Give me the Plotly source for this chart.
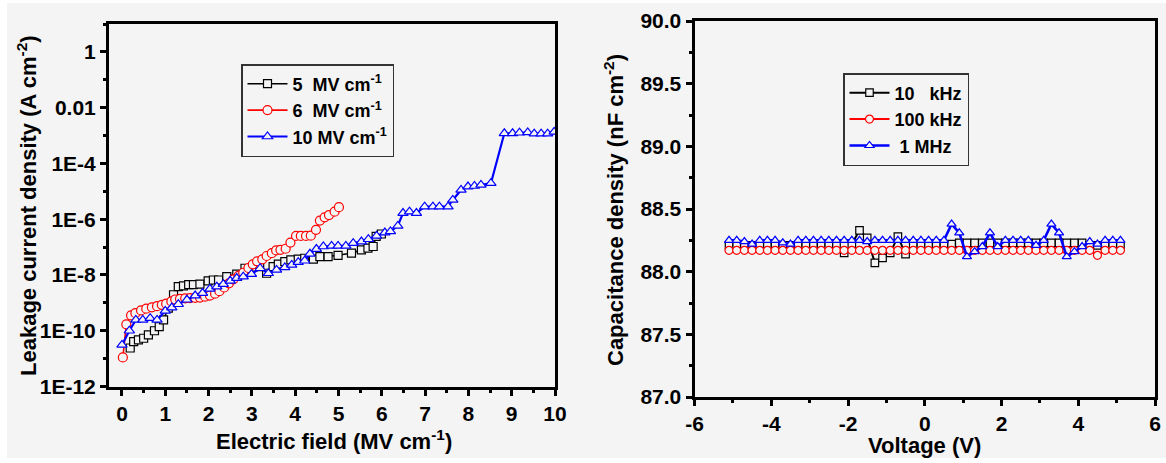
import plotly.graph_objects as go

# ---------------- Leakage current density vs electric field ----------------
field_5 = [0.19, 0.27, 0.38, 0.50, 0.61, 0.75, 0.86, 0.96, 1.07, 1.19, 1.30, 1.42, 1.54, 1.65,
           1.80, 1.99, 2.11, 2.23, 2.42, 2.65, 2.84, 3.02, 3.18, 3.34, 3.49, 3.61, 3.76, 3.90,
           4.07, 4.22, 4.42, 4.57, 4.76, 4.99, 5.30, 5.53, 5.68, 5.80, 5.87, 5.99]
leak_5 = [2.40e-11, 4.07e-11, 4.68e-11, 5.37e-11, 7.08e-11, 1.00e-10, 1.41e-10, 2.45e-10,
          6.46e-10, 1.95e-9, 3.80e-9, 4.07e-9, 4.47e-9, 4.47e-9, 4.68e-9, 6.17e-9, 6.61e-9,
          6.61e-9, 8.71e-9, 1.07e-8, 1.74e-8, 1.91e-8, 2.00e-8, 1.15e-8, 2.00e-8, 2.45e-8,
          3.02e-8, 3.47e-8, 3.72e-8, 3.98e-8, 3.72e-8, 4.57e-8, 4.57e-8, 5.01e-8, 6.03e-8,
          7.94e-8, 9.12e-8, 1.05e-7, 2.40e-7, 2.95e-7]

field_6 = [0.02, 0.10, 0.21, 0.31, 0.44, 0.56, 0.69, 0.81, 0.92, 1.02, 1.14, 1.23, 1.34, 1.46,
           1.57, 1.69, 1.80, 1.92, 2.03, 2.15, 2.25, 2.36, 2.47, 2.57, 2.69, 2.80, 2.92, 3.02,
           3.12, 3.24, 3.34, 3.46, 3.56, 3.66, 3.78, 3.89, 4.02, 4.13, 4.25, 4.36, 4.48, 4.57,
           4.68, 4.78, 4.91, 5.01]
leak_6 = [1.10e-11, 1.70e-10, 3.55e-10, 4.27e-10, 5.37e-10, 6.17e-10, 6.92e-10, 7.59e-10,
          8.51e-10, 9.33e-10, 1.12e-9, 1.32e-9, 1.38e-9, 1.45e-9, 1.48e-9, 1.51e-9, 1.55e-9,
          1.66e-9, 1.82e-9, 2.14e-9, 2.63e-9, 3.55e-9, 5.01e-9, 6.92e-9, 9.33e-9, 1.20e-8,
          1.78e-8, 2.40e-8, 3.09e-8, 3.63e-8, 4.79e-8, 6.03e-8, 7.59e-8, 7.94e-8, 8.71e-8,
          1.45e-7, 2.51e-7, 2.51e-7, 2.51e-7, 2.57e-7, 4.17e-7, 8.91e-7, 1.17e-6, 1.41e-6,
          1.86e-6, 2.69e-6]

field_10 = [0.00, 0.17, 0.32, 0.48, 0.65, 0.81, 1.00, 1.15, 1.30, 1.50, 1.69, 1.86, 2.03, 2.19,
            2.34, 2.50, 2.65, 2.80, 2.99, 3.19, 3.38, 3.57, 3.76, 3.92, 4.07, 4.22, 4.34, 4.49,
            4.65, 4.84, 4.99, 5.17, 5.34, 5.53, 5.69, 5.88, 6.07, 6.20, 6.37, 6.49, 6.64, 6.80,
            6.99, 7.18, 7.33, 7.53, 7.64, 7.83, 7.99, 8.14, 8.29, 8.52, 8.83, 9.02, 9.18, 9.37,
            9.52, 9.68, 9.83, 9.98]
leak_10 = [3.09e-11, 1.00e-10, 2.45e-10, 2.45e-10, 2.82e-10, 2.45e-10, 5.13e-10, 6.76e-10,
           8.91e-10, 1.29e-9, 1.82e-9, 2.24e-9, 3.16e-9, 3.80e-9, 4.68e-9, 6.17e-9, 7.76e-9,
           8.71e-9, 1.07e-8, 1.74e-8, 1.15e-8, 1.51e-8, 1.86e-8, 2.29e-8, 2.88e-8, 3.24e-8,
           5.75e-8, 8.51e-8, 1.05e-7, 1.10e-7, 1.10e-7, 1.10e-7, 1.38e-7, 1.58e-7, 1.91e-7,
           2.51e-7, 3.31e-7, 3.63e-7, 5.75e-7, 1.66e-6, 1.86e-6, 1.66e-6, 2.82e-6, 2.82e-6,
           2.82e-6, 2.82e-6, 4.90e-6, 1.12e-5, 1.48e-5, 1.55e-5, 1.70e-5, 1.95e-5, 1.20e-3,
           1.20e-3, 1.26e-3, 1.29e-3, 1.17e-3, 1.17e-3, 1.17e-3, 1.35e-3]

leak_tickvals = [1e-12, 1e-10, 1e-8, 1e-6, 1e-4, 1e-2, 1]
leak_ticktext = ["1E-12", "1E-10", "1E-8", "1E-6", "1E-4", "0.01", "1"]
leak_minor = [1e-11, 1e-9, 1e-7, 1e-5, 1e-3, 1e-1, 10]

# ---------------- Capacitance density vs voltage ----------------
voltage = [-5.1, -4.9, -4.7, -4.5, -4.3, -4.1, -3.9, -3.7, -3.5, -3.3, -3.1, -2.9, -2.7,
           -2.5, -2.3, -2.1, -1.9, -1.7, -1.5, -1.3, -1.1, -0.9, -0.7, -0.5, -0.3, -0.1,
           0.1, 0.3, 0.5, 0.7, 0.9, 1.1, 1.3, 1.5, 1.7, 1.9, 2.1, 2.3, 2.5, 2.7,
           2.9, 3.1, 3.3, 3.5, 3.7, 3.9, 4.1, 4.3, 4.5, 4.7, 4.9, 5.1]
cap_10k = [88.21, 88.21, 88.21, 88.21, 88.21, 88.21, 88.21, 88.21, 88.21, 88.21, 88.21, 88.21, 88.21,
           88.21, 88.21, 88.15, 88.22, 88.33, 88.27, 88.07, 88.11, 88.15, 88.28, 88.14, 88.21, 88.21,
           88.21, 88.21, 88.21, 88.22, 88.23, 88.23, 88.23, 88.23, 88.23, 88.23, 88.23, 88.23, 88.23, 88.23,
           88.23, 88.23, 88.23, 88.23, 88.23, 88.23, 88.23, 88.21, 88.21, 88.21, 88.21, 88.21]
cap_100k = [88.17, 88.17, 88.17, 88.17, 88.17, 88.17, 88.17, 88.17, 88.17, 88.17, 88.17, 88.17, 88.17,
            88.17, 88.17, 88.17, 88.17, 88.17, 88.17, 88.17, 88.17, 88.17, 88.17, 88.17, 88.17, 88.17,
            88.17, 88.17, 88.17, 88.17, 88.17, 88.17, 88.17, 88.17, 88.17, 88.17, 88.17, 88.17, 88.17, 88.17,
            88.17, 88.17, 88.17, 88.17, 88.17, 88.17, 88.17, 88.17, 88.13, 88.17, 88.17, 88.17]
cap_1m = [88.25, 88.25, 88.24, 88.22, 88.25, 88.25, 88.25, 88.23, 88.22, 88.25, 88.25, 88.25, 88.25,
          88.25, 88.25, 88.25, 88.25, 88.25, 88.24, 88.25, 88.25, 88.25, 88.25, 88.25, 88.25, 88.25,
          88.25, 88.25, 88.25, 88.38, 88.31, 88.12, 88.16, 88.20, 88.31, 88.20, 88.25, 88.25, 88.25, 88.25,
          88.21, 88.25, 88.38, 88.31, 88.12, 88.16, 88.20, 88.24, 88.22, 88.25, 88.25, 88.25]

volt_tickvals = [-6, -4, -2, 0, 2, 4, 6]
volt_ticktext = ["-6", "-4", "-2", "0", "2", "4", "6"]

# ---------------- figure geometry (pixels) ----------------
W, H = 1166, 463
BG = "#f4f4f4"
FONT = "Liberation Sans, Arial, sans-serif"


def xdom(a, b):
    return [a / W, b / W]


def ydom(top, bottom):
    return [1 - bottom / H, 1 - top / H]


def hollow(symbol, size, color):
    # outlined symbol whose inside is painted with the plot background,
    # so the connecting line does not show through it
    return dict(symbol=symbol, size=size, color=BG, line=dict(color=color, width=1.2))


fig = go.Figure()

fig.add_trace(go.Scatter(
    x=field_5, y=leak_5, mode="lines+markers", name="5&nbsp;&nbsp;MV cm<sup>-1</sup>",
    line=dict(color="#000000", width=1.6), marker=hollow("square", 8, "#000000"),
    xaxis="x", yaxis="y", legend="legend"))
fig.add_trace(go.Scatter(
    x=field_6, y=leak_6, mode="lines+markers", name="6&nbsp;&nbsp;MV cm<sup>-1</sup>",
    line=dict(color="#ff0000", width=1.6), marker=hollow("circle", 9, "#ff0000"),
    xaxis="x", yaxis="y", legend="legend"))
fig.add_trace(go.Scatter(
    x=field_10, y=leak_10, mode="lines+markers", name="10 MV cm<sup>-1</sup>",
    line=dict(color="#0000ff", width=2.2), marker=hollow("triangle-up", 9, "#0000ff"),
    xaxis="x", yaxis="y", legend="legend"))

fig.add_trace(go.Scatter(
    x=voltage, y=cap_10k, mode="lines+markers", name="10&nbsp;&nbsp;&nbsp;kHz",
    line=dict(color="#000000", width=2), marker=hollow("square", 7.5, "#000000"),
    xaxis="x2", yaxis="y2", legend="legend2"))
fig.add_trace(go.Scatter(
    x=voltage, y=cap_100k, mode="lines+markers", name="100 kHz",
    line=dict(color="#ff0000", width=2), marker=hollow("circle", 8, "#ff0000"),
    xaxis="x2", yaxis="y2", legend="legend2"))
fig.add_trace(go.Scatter(
    x=voltage, y=cap_1m, mode="lines+markers", name="&nbsp;1 MHz",
    line=dict(color="#0000ff", width=2.6), marker=hollow("triangle-up", 8, "#0000ff"),
    xaxis="x2", yaxis="y2", legend="legend2"))

tickfont = dict(family=FONT, size=21, color="black", weight="bold")
axis_common = dict(showline=True, linecolor="black", linewidth=3, mirror=True,
                   ticks="outside", tickcolor="black", tickwidth=2.5, ticklen=6,
                   showgrid=False, zeroline=False, tickfont=tickfont, automargin=False)
minor_common = dict(ticks="outside", tickcolor="black", tickwidth=2.5, ticklen=3, showgrid=False)

legend_common = dict(bgcolor="rgba(0,0,0,0)", bordercolor="#333333", borderwidth=1.5,
                     font=dict(family=FONT, size=18, color="black", weight="bold"),
                     xref="paper", yref="paper", xanchor="left", yanchor="top",
                     tracegroupgap=0, itemwidth=40)

fig.update_layout(
    width=W, height=H,
    margin=dict(l=0, r=0, t=0, b=0),
    paper_bgcolor="white", plot_bgcolor=BG,
    showlegend=True,
    xaxis=dict(domain=xdom(109, 555), range=[-0.3, 10], tickvals=list(range(0, 11)),
               minor=dict(dtick=0.5, tick0=0, **minor_common), anchor="y", **axis_common),
    yaxis=dict(domain=ydom(24, 386.5), type="log", range=[-12, 1],
               tickvals=leak_tickvals, ticktext=leak_ticktext,
               minor=dict(tickvals=leak_minor, **minor_common), anchor="x", **axis_common),
    xaxis2=dict(domain=xdom(694.5, 1155), range=[-6, 6],
                tickvals=volt_tickvals, ticktext=volt_ticktext,
                minor=dict(dtick=1, tick0=0, **minor_common), anchor="y2", **axis_common),
    yaxis2=dict(domain=ydom(21, 397), range=[87, 90], dtick=0.5, tick0=87, tickformat=".1f",
                minor=dict(dtick=0.25, tick0=87, **minor_common), anchor="x2", **axis_common),
    legend=dict(x=241 / W, y=1 - 64 / H, **legend_common),
    legend2=dict(x=843 / W, y=1 - 73 / H, **legend_common),
    shapes=[dict(type="rect", xref="paper", yref="paper", x0=7 / W, x1=1, y0=1 - 458 / H,
                 y1=1 - 3 / H, fillcolor=BG, line=dict(width=0), layer="below")],
)

title_font = dict(family=FONT, size=22, color="black", weight="bold")
annotations = [
    dict(text="Leakage current density (A cm<sup>-2</sup>)", x=27, y=206, textangle=-90),
    dict(text="Electric field (MV cm<sup>-1</sup>)", x=334, y=440, textangle=0),
    dict(text="Capacitance density (nF cm<sup>-2</sup>)", x=614, y=210, textangle=-90),
    dict(text="Voltage (V)", x=924, y=445, textangle=0),
]
for a in annotations:
    fig.add_annotation(text=a["text"], x=a["x"] / W, y=1 - a["y"] / H, xref="paper", yref="paper",
                       xanchor="center", yanchor="middle", textangle=a["textangle"],
                       showarrow=False, font=title_font)

# the page body carries no margin so the figure fills the window exactly
fig.write_html("out.html",
               post_script="document.body.style.margin='0';"
                           "document.documentElement.style.overflow='hidden';")
